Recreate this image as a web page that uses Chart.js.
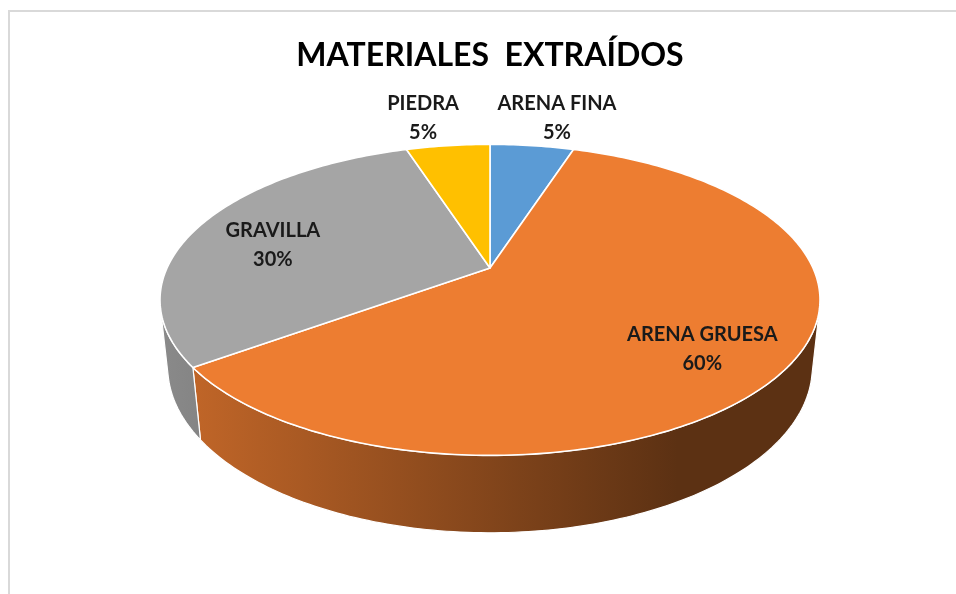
<!DOCTYPE html>
<html><head><meta charset="utf-8">
<script src="https://cdn.jsdelivr.net/npm/chart.js@4.4.1/dist/chart.umd.min.js"></script>
<style>
html,body{margin:0;padding:0;background:#fff;overflow:hidden;width:956px;height:594px}
#frame{position:absolute;left:8px;top:10px;width:948px;height:584px;border-left:2px solid #d9d9d9;border-top:2px solid #d9d9d9;box-sizing:border-box}
#wrap{position:absolute;left:0;top:0;width:956px;height:594px}
</style></head><body>
<div id="frame"></div>
<div id="wrap"><canvas id="c"></canvas></div>
<script>
// ---- data ----
const categories = ['ARENA FINA', 'ARENA GRUESA', 'GRAVILLA', 'PIEDRA'];
const values = [5, 60, 30, 5];
const sliceColors = ['#5B9BD5', '#ED7D31', '#A5A5A5', '#FFC000'];
const titleText = 'MATERIALES  EXTRAÍDOS';

// ---- 3D perspective look (style constants) ----
const CAM = { D: 4.364, c: 0.895, s: 0.4456, h: 0.226, K: 7.677, VS: 1.035 };
const LABEL_FONT = 'bold 20px Lato';
const LABEL_COLOR = '#1a1a1a';

function proj(cx, cy, R, a, r, Y) {
  const X = r * Math.cos(a), Z = r * Math.sin(a);
  const F = R * CAM.K;
  const depth = CAM.D - Y * CAM.s - Z * CAM.c;
  return [cx + F * X / depth, cy - CAM.VS * F * (Y * CAM.c - Z * CAM.s) / depth];
}
function shade(hex, f) {
  const n = parseInt(hex.slice(1), 16);
  const r = Math.round(((n >> 16) & 255) * f), g = Math.round(((n >> 8) & 255) * f), b = Math.round((n & 255) * f);
  return `rgb(${r},${g},${b})`;
}
const total = values.reduce((a, b) => a + b, 0);

const pie3d = {
  id: 'pie3d',
  beforeDatasetsDraw(chart) {
    const ctx = chart.ctx;
    const arcs = chart.getDatasetMeta(0).data;
    if (!arcs.length) return false;
    const { x: cx, y: cy, outerRadius: R } = arcs[0].getProps(['x', 'y', 'outerRadius'], true);
    const step = Math.PI / 180;
    const vis = Math.asin(1 / (CAM.D * CAM.c));
    const aMin = vis, aMax = Math.PI - vis;
    const xL = proj(cx, cy, R, Math.PI, 1, 0)[0];
    const xR = proj(cx, cy, R, 0, 0.58, 0)[0];
    ctx.save();
    ctx.lineJoin = 'round';
    // side walls
    arcs.forEach((arc, i) => {
      const p = arc.getProps(['startAngle', 'endAngle'], true);
      const s = Math.max(p.startAngle, aMin), e = Math.min(p.endAngle, aMax);
      if (e <= s) return;
      const n = Math.max(2, Math.ceil((e - s) / step));
      ctx.beginPath();
      for (let k = 0; k <= n; k++) {
        const a = s + (e - s) * k / n;
        const q = proj(cx, cy, R, a, 1, 0);
        k ? ctx.lineTo(q[0], q[1]) : ctx.moveTo(q[0], q[1]);
      }
      for (let k = n; k >= 0; k--) {
        const a = s + (e - s) * k / n;
        const q = proj(cx, cy, R, a, 1, -CAM.h);
        ctx.lineTo(q[0], q[1]);
      }
      ctx.closePath();
      const g = ctx.createLinearGradient(xL, 0, xR, 0);
      g.addColorStop(0, shade(sliceColors[i], 0.83));
      g.addColorStop(1, shade(sliceColors[i], 0.39));
      ctx.fillStyle = g;
      ctx.fill();
      ctx.strokeStyle = '#ffffff';
      ctx.lineWidth = 1.2;
      ctx.stroke();
    });
    // top faces
    arcs.forEach((arc, i) => {
      const p = arc.getProps(['startAngle', 'endAngle'], true);
      const s = p.startAngle, e = p.endAngle;
      const n = Math.max(2, Math.ceil((e - s) / step));
      ctx.beginPath();
      const v = proj(cx, cy, R, 0, 0, 0);
      ctx.moveTo(v[0], v[1]);
      for (let k = 0; k <= n; k++) {
        const a = s + (e - s) * k / n;
        const q = proj(cx, cy, R, a, 1, 0);
        ctx.lineTo(q[0], q[1]);
      }
      ctx.closePath();
      ctx.fillStyle = sliceColors[i];
      ctx.fill();
      ctx.strokeStyle = '#ffffff';
      ctx.lineWidth = 1.6;
      ctx.stroke();
    });
    ctx.restore();
    return false;
  },
  afterDraw(chart) {
    const ctx = chart.ctx;
    const arcs = chart.getDatasetMeta(0).data;
    if (!arcs.length) return;
    const { x: cx, y: cy, outerRadius: R } = arcs[0].getProps(['x', 'y', 'outerRadius'], true);
    ctx.save();
    ctx.font = LABEL_FONT;
    ctx.fillStyle = LABEL_COLOR;
    ctx.textAlign = 'center';
    ctx.textBaseline = 'middle';
    arcs.forEach((arc, i) => {
      const p = arc.getProps(['startAngle', 'endAngle'], true);
      const mid = (p.startAngle + p.endAngle) / 2;
      const frac = values[i] / total;
      let lx, ly;
      if (frac >= 0.2) {
        const q = proj(cx, cy, R, mid, 0.74, 0);
        lx = q[0]; ly = q[1] + 10;
      } else {
        const q = proj(cx, cy, R, mid, 1.35, 0);
        lx = cx + (q[0] - cx) * 1.25; ly = q[1] + 6;
      }
      const pct = Math.round(frac * 100) + '%';
      ctx.fillText(categories[i], lx, ly - 14.5);
      ctx.fillText(pct, lx, ly + 14.5);
    });
    ctx.restore();
  }
};

new Chart(document.getElementById('c'), {
  type: 'pie',
  data: {
    labels: categories,
    datasets: [{ data: values, backgroundColor: sliceColors, borderWidth: 0 }]
  },
  options: {
    responsive: true,
    maintainAspectRatio: false,
    animation: false,
    events: [],
    layout: { padding: { left: 24, right: 0, top: 19, bottom: 142.4 } },
    plugins: {
      legend: { display: false },
      tooltip: { enabled: false },
      title: {
        display: true,
        text: titleText,
        color: '#000000',
        font: { family: 'Lato', size: 32, weight: 'bold', lineHeight: 1.2 },
        padding: { top: 17, bottom: 10 }
      }
    }
  },
  plugins: [pie3d]
});
</script>
</body></html>
